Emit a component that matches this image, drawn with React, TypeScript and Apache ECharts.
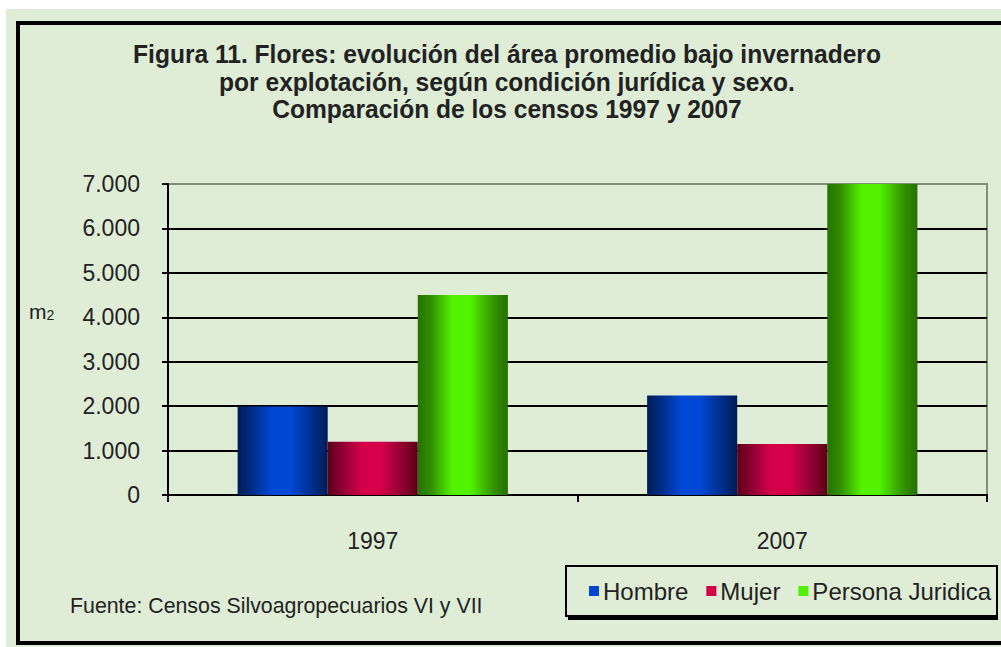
import React, { useEffect, useRef } from "react";
import * as echarts from "echarts";

const categories = ["1997", "2007"];
const hombre = [1990, 2240];
const mujer = [1200, 1150];
const personaJuridica = [4500, 7000];
const seriesNames = ["Hombre", "Mujer", "Persona Juridica"];
const titleLines = [
  "Figura 11. Flores: evolución del área promedio bajo invernadero",
  "por explotación, según condición jurídica y sexo.",
  "Comparación de los censos 1997 y 2007",
];
const yUnit = ["m", "2"];
const sourceText = "Fuente: Censos Silvoagropecuarios VI y VII";

const FONT = "'Liberation Sans', Arial, sans-serif";
const TXT = "#222";

function grad(dark: string, mid: string, bright: string) {
  return new echarts.graphic.LinearGradient(0, 0, 1, 0, [
    { offset: 0, color: dark },
    { offset: 0.15, color: mid },
    { offset: 0.38, color: bright },
    { offset: 0.58, color: bright },
    { offset: 0.85, color: mid },
    { offset: 1, color: dark },
  ]);
}

export default function App() {
  const ref = useRef<HTMLDivElement>(null);
  useEffect(() => {
    if (!ref.current) return;
    const chart = echarts.init(ref.current, null, { renderer: "svg" });
    const colors = ["#0046d2", "#d20046", "#4ff000"];
    chart.setOption({
      animation: false,
      graphic: [
        {
          type: "rect",
          z: 100,
          shape: { x: 18, y: 23, width: 1000, height: 620 },
          style: { fill: "none", stroke: "#000", lineWidth: 4 },
        },
        ...titleLines.map((t, i) => ({
          type: "text",
          x: 507,
          y: 54 + i * 27.5,
          scaleX: 0.945,
          style: {
            text: t,
            textAlign: "center",
            textVerticalAlign: "middle",
            font: `bold 26px ${FONT}`,
            fill: TXT,
          },
        })),
        {
          type: "text",
          x: 29,
          y: 311,
          style: {
            text: `{a|${yUnit[0]}}{b|${yUnit[1]}}`,
            rich: {
              a: { fontSize: 21, fontFamily: FONT, fill: TXT, color: TXT },
              b: { fontSize: 14, fontFamily: FONT, fill: TXT, color: TXT, verticalAlign: "bottom" },
            },
            textVerticalAlign: "middle",
          },
        },
        {
          type: "text",
          x: 70,
          y: 605,
          scaleX: 0.97,
          style: {
            text: sourceText,
            textVerticalAlign: "middle",
            font: `22px ${FONT}`,
            fill: TXT,
          },
        },
        {
          type: "rect",
          shape: { x: 568, y: 614, width: 430, height: 6 },
          style: { fill: "#000" },
        },
        {
          type: "rect",
          shape: { x: 566, y: 566, width: 431, height: 50 },
          style: { fill: "#dfedd7", stroke: "#000", lineWidth: 2 },
        },
      ],
      legend: {
        left: 589,
        top: 579,
        padding: 0,
        itemWidth: 10,
        itemHeight: 10,
        itemGap: 18,
        icon: "rect",
        z: 50,
        textStyle: { fontSize: 24, fontFamily: FONT, color: TXT, padding: [0, 0, 0, -1] },
        data: seriesNames.map((n, i) => ({ name: n, itemStyle: { color: colors[i] } })),
      },
      grid: {
        left: 168,
        right: 14,
        top: 184,
        bottom: 152,
        show: true,
        borderColor: "#7f8f78",
        borderWidth: 2,
        backgroundColor: "transparent",
      },
      xAxis: {
        type: "category",
        data: categories,
        axisLine: { lineStyle: { color: "#000", width: 2 } },
        axisTick: { show: true, length: 7, lineStyle: { color: "#000", width: 2 } },
        axisLabel: { margin: 34, fontSize: 23, fontFamily: FONT, color: TXT },
      },
      yAxis: {
        type: "value",
        min: 0,
        max: 7000,
        interval: 1000,
        axisLine: { show: true, lineStyle: { color: "#000", width: 2 } },
        axisTick: { show: true, length: 6, lineStyle: { color: "#000", width: 2 } },
        splitLine: { show: true, showMaxLine: false, lineStyle: { color: "#000", width: 2 } },
        axisLabel: {
          margin: 28,
          fontSize: 23,
          fontFamily: FONT,
          color: TXT,
          formatter: (v: number) => v.toLocaleString("de-DE"),
        },
      },
      series: [
        {
          name: seriesNames[0],
          type: "bar",
          data: hombre,
          barGap: "0%",
          barCategoryGap: "34%",
          itemStyle: { color: grad("#001c55", "#002c84", "#0048d6") },
        },
        {
          name: seriesNames[1],
          type: "bar",
          data: mujer,
          barGap: "0%",
          barCategoryGap: "34%",
          itemStyle: { color: grad("#5a0018", "#8a0030", "#d6004a") },
        },
        {
          name: seriesNames[2],
          type: "bar",
          data: personaJuridica,
          barGap: "0%",
          barCategoryGap: "34%",
          itemStyle: { color: grad("#267000", "#329000", "#52f200") },
        },
      ],
    });
    return () => chart.dispose();
  }, []);
  return (
    <div style={{ position: "fixed", left: 0, top: 0, width: 1001, height: 647, background: "#fff" }}>
      <div
        style={{ position: "absolute", left: 6, top: 9, right: 0, bottom: 0, background: "#dfedd7" }}
      />
      <div ref={ref} style={{ position: "absolute", left: 0, top: 0, width: 1001, height: 647 }} />
    </div>
  );
}
